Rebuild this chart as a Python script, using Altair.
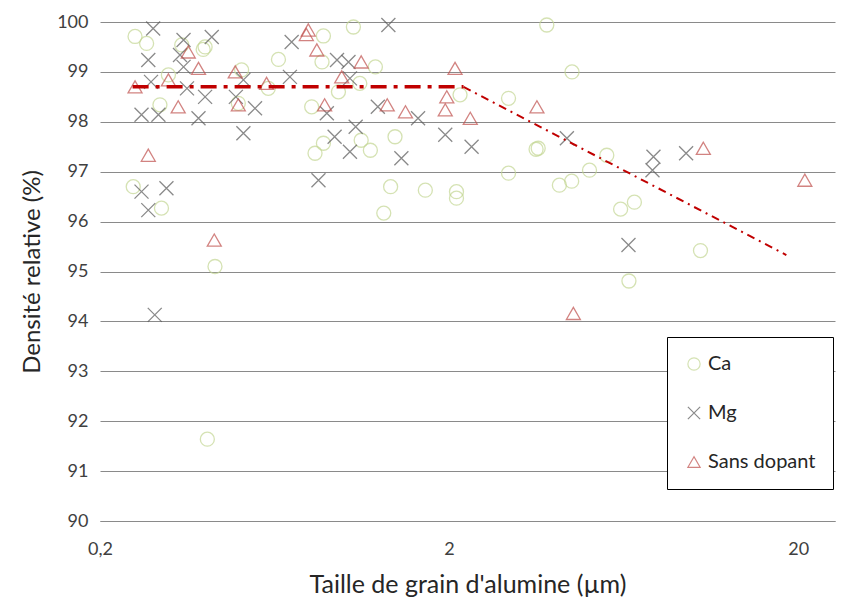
import altair as alt
import pandas as pd

# ---- data ----
series_names = ["Ca", "Mg", "Sans dopant"]

ca_x = [0.252, 0.272, 0.343, 0.40, 0.395, 0.649, 0.314, 0.509, 0.607, 0.297, 0.498,
        1.064, 0.873, 0.865, 0.964, 1.11, 0.808, 0.826, 0.873, 1.12, 0.249, 0.30,
        0.427, 0.406, 3.81, 1.23, 2.15, 2.96, 1.40, 1.19, 3.60, 3.55, 2.96, 1.36,
        1.71, 2.10, 2.10, 1.30, 4.50, 5.66, 5.05, 4.14, 4.49, 6.20, 6.79, 10.5, 6.55]
ca_y = [99.71, 99.57, 99.54, 99.50, 99.45, 99.25, 98.94, 99.04, 98.67, 98.34, 98.37,
        99.90, 99.72, 99.20, 98.60, 98.77, 98.30, 97.37, 97.57, 97.63, 96.70, 96.27,
        95.10, 91.64, 99.94, 99.10, 98.54, 98.47, 97.70, 97.43, 97.47, 97.45, 96.97, 96.70,
        96.63, 96.60, 96.47, 96.17, 99.00, 97.33, 97.03, 96.73, 96.81, 96.25, 96.39, 95.42, 94.81]

mg_x = [0.284, 0.275, 0.28, 0.263, 0.294, 0.347, 0.339, 0.347, 0.355, 0.418, 0.40,
        0.383, 0.515, 0.515, 0.49, 0.556, 0.708, 0.70, 0.893, 0.94, 1.04, 1.08, 0.845,
        0.955, 1.03, 0.263, 0.31, 0.275, 0.287, 1.34, 1.04, 1.25, 1.63, 1.95, 2.32,
        1.46, 4.35, 7.70, 7.65, 9.55, 6.53]
mg_y = [99.87, 99.24, 98.80, 98.14, 98.14, 99.64, 99.34, 99.10, 98.67, 99.70, 98.50,
        98.07, 97.77, 98.84, 98.50, 98.27, 99.60, 98.90, 98.17, 97.70, 97.40, 97.90, 96.83,
        99.24, 99.20, 96.60, 96.67, 96.23, 94.13, 99.94, 98.87, 98.30, 98.07, 97.74, 97.50,
        97.27, 97.67, 97.30, 97.03, 97.37, 95.53]

sd_x = [0.252, 0.314, 0.358, 0.383, 0.335, 0.275, 0.488, 0.498, 0.60, 0.79, 0.78,
        0.836, 0.88, 0.985, 1.12, 0.425, 2.08, 1.33, 1.50, 1.97, 1.95, 2.30, 3.57,
        10.7, 20.9, 4.54]
sd_y = [98.70, 98.84, 99.40, 99.07, 98.30, 97.33, 99.00, 98.34, 98.77, 99.84, 99.75,
        99.44, 98.34, 98.90, 99.20, 95.63, 99.07, 98.34, 98.20, 98.50, 98.24, 98.07, 98.30,
        97.47, 96.83, 94.16]

trend_flat_x = [0.248, 2.2]
trend_flat_y = [98.7, 98.7]
trend_slope_x = [2.2, 18.5]
trend_slope_y = [98.7, 95.33]

x_ticks = [0.2, 2, 20]
y_ticks = list(range(90, 101))

# ---- tables ----
pts = pd.concat([
    pd.DataFrame({"x": ca_x, "y": ca_y, "serie": "Ca"}),
    pd.DataFrame({"x": mg_x, "y": mg_y, "serie": "Mg"}),
    pd.DataFrame({"x": sd_x, "y": sd_y, "serie": "Sans dopant"}),
], ignore_index=True)
flat = pd.DataFrame({"x": trend_flat_x, "y": trend_flat_y})
slope = pd.DataFrame({"x": trend_slope_x, "y": trend_slope_y})

FONT = "Lato"
xscale = alt.Scale(type="log", domain=[0.2, 25.5], nice=False)
yscale = alt.Scale(domain=[90, 100], nice=False, zero=False)

xenc = alt.X("x:Q", scale=xscale, axis=alt.Axis(
    values=x_ticks, labelExpr="replace(format(datum.value, '~g'), '.', ',')",
    title="Taille de grain d'alumine (µm)", grid=False, ticks=False,
    domainColor="#8a8a8a", labelFontSize=18, labelColor="#404040",
    labelPadding=19, titleFontSize=25, titleFontWeight="normal",
    titleColor="#262626", titlePadding=14, labelFlush=False))
yenc = alt.Y("y:Q", scale=yscale, axis=alt.Axis(
    values=y_ticks, title="Densité relative (%)", grid=True, gridColor="#8a8a8a",
    ticks=False, domain=False, labelFontSize=18, labelColor="#404040",
    labelPadding=12, titleFontSize=24, titleFontWeight="normal",
    titleColor="#262626", titlePadding=12))

leg = alt.Legend(orient="none", legendX=567, legendY=315, title=None,
                 strokeColor="black", fillColor="white", padding=17,
                 rowPadding=29, labelFontSize=20, labelFont=FONT,
                 labelColor="#262626", symbolSize=150, symbolStrokeWidth=1.2,
                 labelOffset=4)

shape_range = ["circle", "M-1,-1L1,1M1,-1L-1,1", "triangle-up"]
color_range = ["#C4D794", "#595959", "#C0504D"]

points = alt.Chart(pts).mark_point(filled=False, strokeWidth=1.3, size=196).encode(
    x=xenc, y=yenc,
    color=alt.Color("serie:N", scale=alt.Scale(domain=series_names, range=color_range), legend=leg),
    shape=alt.Shape("serie:N", scale=alt.Scale(domain=series_names, range=shape_range), legend=leg),
)

line_flat = alt.Chart(flat).mark_line(color="#C00000", strokeWidth=3.5,
                                      strokeDash=[16, 7, 4, 7]).encode(x="x:Q", y="y:Q")
line_slope = alt.Chart(slope).mark_line(color="#C00000", strokeWidth=2,
                                        strokeDash=[8, 5, 2, 5]).encode(x="x:Q", y="y:Q")

chart = alt.layer(points, line_flat, line_slope).properties(
    width=735, height=499,
    autosize=alt.AutoSizeParams(type="none"),
    padding={"left": 92, "top": 14, "right": 5, "bottom": 80},
).configure(font=FONT).configure_view(stroke=None)

chart.save("out.html", embed_options={"renderer": "svg", "actions": False})
